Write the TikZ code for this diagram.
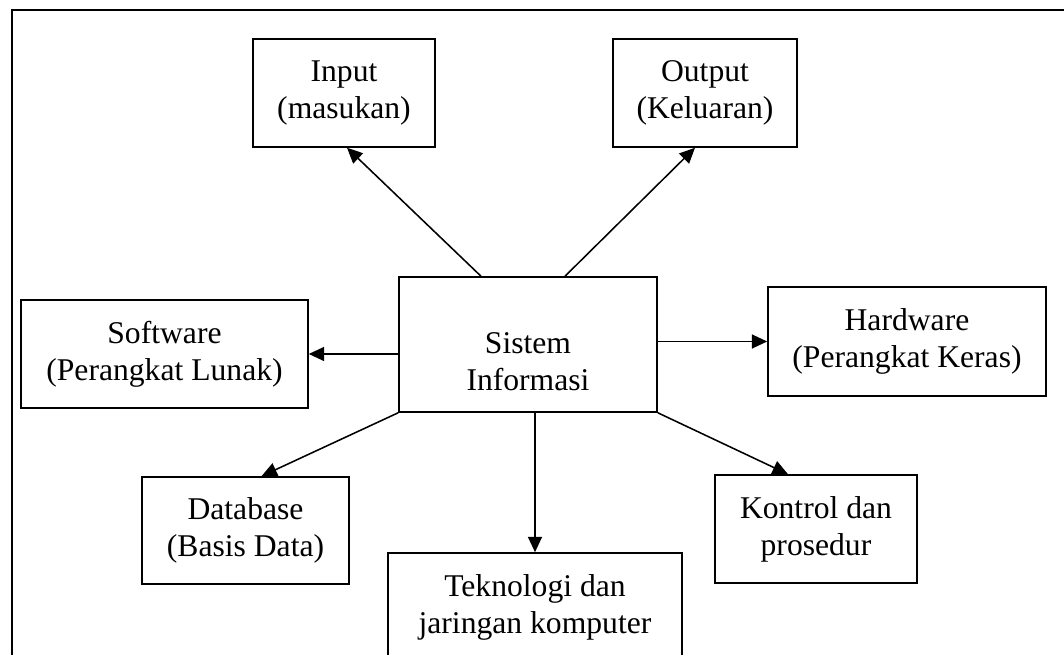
\documentclass[tikz,border=0pt]{standalone}
\usepackage{fontspec}
\setmainfont{Liberation Serif}
\usetikzlibrary{arrows.meta}

\begin{document}
\begin{tikzpicture}[
    txt/.style={align=center, inner sep=0pt, font=\fontsize{22.5}{26.3}\selectfont},
    box/.style={txt, draw, line width=1.1pt},
    arr/.style={line width=1.1pt, -{Triangle[length=11pt,width=10pt]}}
  ]
    \useasboundingbox (0,0) rectangle (26.6,16.375);

    % Frame
    % ---------------------
    \draw[line width=1.1pt] (0.3,0) -- (0.3,16.125) -- (26.6,16.125);

    % Boxes
    % ---------------------
    \node[box, minimum width=6.45cm, minimum height=3.375cm] (si) at (13.2,7.7625) {};
    \node[txt] (silbl) at ([yshift=-0.42cm]si.center) {Sistem\\Informasi};
    \node[box, minimum width=4.55cm, minimum height=2.7cm] (inp) at (8.6,14.05) {Input\\(masukan)};
    \node[box, minimum width=4.6cm, minimum height=2.7cm] (outp) at (17.625,14.05) {Output\\(Keluaran)};
    \node[box, minimum width=7.175cm, minimum height=2.7cm] (sw) at (4.1125,7.525) {Software\\(Perangkat Lunak)};
    \node[box, minimum width=6.95cm, minimum height=2.725cm] (hw) at (22.675,7.8375) {Hardware\\(Perangkat Keras)};
    \node[box, minimum width=5.175cm, minimum height=2.675cm] (db) at (6.1375,3.1125) {Database\\(Basis Data)};
    \node[box, minimum width=7.35cm, minimum height=2.7cm] (tek) at (13.375,1.2) {Teknologi dan\\jaringan komputer};
    \node[box, minimum width=5.05cm, minimum height=2.7cm] (kon) at (20.4,3.15) {Kontrol dan\\prosedur};

    % Arrows
    % ---------------------
    \draw[arr] ([xshift=-1.175cm]si.north) -- ([xshift=0.075cm]inp.south);
    \draw[arr] ([xshift=0.925cm]si.north) -- ([xshift=-0.25cm]outp.south);
    \draw[arr] (si.west |- sw.east) -- (sw.east);
    \draw[arr] (si.east |- hw.west) -- (hw.west);
    \draw[arr] (si.south west) -- ([xshift=0.4cm]db.north);
    \draw[arr] (si.south -| tek.north) -- (tek.north);
    \draw[arr] (si.south east) -- ([xshift=-0.7cm]kon.north);
  \end{tikzpicture}
\end{document}
